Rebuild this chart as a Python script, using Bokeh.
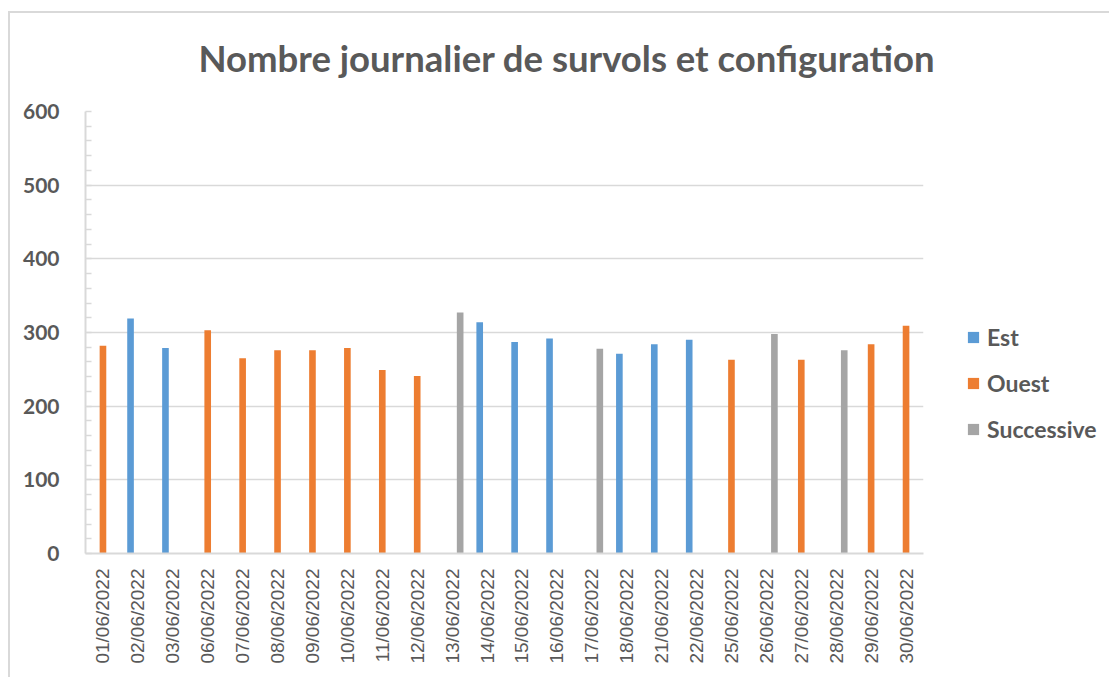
import math
from bokeh.plotting import figure
from bokeh.models import (ColumnDataSource, FactorRange, Range1d, FixedTicker, Legend,
                          LegendItem, InlineStyleSheet)
from bokeh.transform import dodge
from bokeh.embed import file_html
from bokeh.resources import INLINE

dates = ["01/06/2022", "02/06/2022", "03/06/2022", "06/06/2022", "07/06/2022",
         "08/06/2022", "09/06/2022", "10/06/2022", "11/06/2022", "12/06/2022",
         "13/06/2022", "14/06/2022", "15/06/2022", "16/06/2022", "17/06/2022",
         "18/06/2022", "21/06/2022", "22/06/2022", "25/06/2022", "26/06/2022",
         "27/06/2022", "28/06/2022", "29/06/2022", "30/06/2022"]

est = [0, 319, 279, 0, 0, 0, 0, 0, 0, 0,
       0, 314, 287, 292, 0, 271, 284, 290, 0, 0, 0, 0, 0, 0]
ouest = [282, 0, 0, 303, 265, 276, 276, 279, 249, 241,
         0, 0, 0, 0, 0, 0, 0, 0, 263, 0, 263, 0, 284, 309]
successive = [0, 0, 0, 0, 0, 0, 0, 0, 0, 0,
              327, 0, 0, 0, 278, 0, 0, 0, 0, 298, 0, 276, 0, 0]

series_names = ["Est", "Ouest", "Successive"]
colors = ["#5b9bd5", "#ed7d31", "#a5a5a5"]
y_ticks = [0, 100, 200, 300, 400, 500, 600]
title_text = "Nombre journalier de survols et configuration"

TEXT = "#595959"
GRID = "#d9d9d9"

src = ColumnDataSource(dict(dates=dates, Est=est, Ouest=ouest, Successive=successive))

border_css = InlineStyleSheet(css="""
:host::after {
  content: "";
  position: absolute;
  left: 8px; top: 11px; right: 0px; bottom: 0px;
  border-left: 2px solid #d9d9d9;
  border-top: 2px solid #d9d9d9;
  pointer-events: none;
}
""")

p = figure(x_range=FactorRange(factors=dates, range_padding=0),
           y_range=Range1d(0, 600),
           frame_width=838, frame_height=442,
           min_border_left=85, min_border_right=186,
           min_border_top=111, min_border_bottom=124,
           output_backend="svg", toolbar_location=None,
           title=title_text, stylesheets=[border_css])

p.outline_line_color = None
p.background_fill_color = "white"
p.border_fill_color = "white"

p.title.align = "left"
p.title.offset = 113
p.title.text_font = "Lato"
p.title.text_font_style = "bold"
p.title.text_font_size = "36.5px"
p.title.text_color = TEXT
p.title.vertical_align = "bottom"
p.title.standoff = 64

offsets = [-0.21, 0.0, 0.23]
renderers = []
for name, col, off in zip(series_names, colors, offsets):
    r = p.vbar(x=dodge("dates", off, range=p.x_range), top=name, width=0.19,
               source=src, fill_color=col, line_color=None)
    renderers.append(r)

# axes
p.yaxis.ticker = FixedTicker(ticks=y_ticks, minor_ticks=list(range(0, 601, 20)))
p.yaxis.axis_line_color = GRID
p.yaxis.axis_line_width = 2
p.yaxis.major_tick_in = 0
p.yaxis.major_tick_out = 0
p.yaxis.minor_tick_in = 6
p.yaxis.minor_tick_out = 0
p.yaxis.minor_tick_line_color = GRID
p.yaxis.minor_tick_line_width = 1.5
p.yaxis.major_label_standoff = 26
p.yaxis.major_label_text_font = "Lato"
p.yaxis.major_label_text_font_style = "bold"
p.yaxis.major_label_text_font_size = "21px"
p.yaxis.major_label_text_color = TEXT

p.xaxis.axis_line_color = GRID
p.xaxis.axis_line_width = 2
p.xaxis.major_tick_line_color = None
p.xaxis.major_tick_in = 0
p.xaxis.major_tick_out = 0
p.xaxis.minor_tick_line_color = None
p.xaxis.major_label_orientation = math.pi / 2
p.xaxis.major_label_standoff = 15
p.xaxis.major_label_text_font = "Liberation Sans"
p.xaxis.major_label_text_font_size = "19px"
p.xaxis.major_label_text_color = TEXT

p.xgrid.grid_line_color = None
p.ygrid.grid_line_color = GRID
p.ygrid.grid_line_width = 1.5
p.ygrid.ticker = FixedTicker(ticks=y_ticks)

legend = Legend(items=[LegendItem(label=n, renderers=[r]) for n, r in zip(series_names, renderers)],
                location=(43, 110), orientation="vertical",
                glyph_width=14, glyph_height=14, label_standoff=7,
                label_text_font="Lato", label_text_font_style="bold",
                label_text_font_size="23px", label_text_color=TEXT,
                label_height=20, spacing=18, padding=0, margin=0,
                border_line_color=None, background_fill_alpha=0)
p.add_layout(legend, "right")

open("out.html", "w").write(file_html(p, INLINE))
